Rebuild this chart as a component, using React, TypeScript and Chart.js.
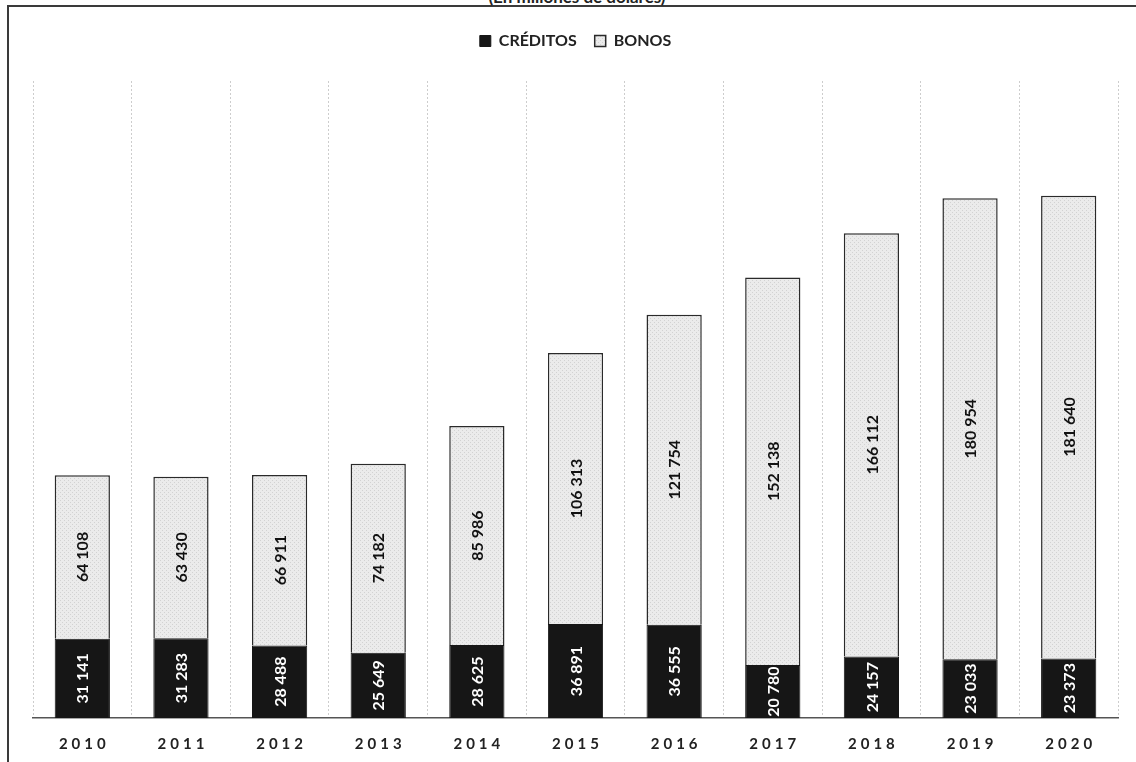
import React, { useEffect, useRef } from "react";
import { Chart, registerables } from "chart.js";

Chart.register(...registerables);

const categories = ["2010", "2011", "2012", "2013", "2014", "2015", "2016", "2017", "2018", "2019", "2020"];
const creditos = [31141, 31283, 28488, 25649, 28625, 36891, 36555, 20780, 24157, 23033, 23373];
const bonos = [64108, 63430, 66911, 74182, 85986, 106313, 121754, 152138, 166112, 180954, 181640];
const seriesNames = ["CRÉDITOS", "BONOS"];
const subtitle = "(En millones de dólares)";

const FONT = "Lato, 'Noto Sans', sans-serif";

function fmt(v: number): string {
  return String(v).replace(/\B(?=(\d{3})+(?!\d))/g, " ");
}

function makePattern(): CanvasPattern | string {
  const c = document.createElement("canvas");
  c.width = 4;
  c.height = 4;
  const g = c.getContext("2d");
  if (!g) return "#e6e6e6";
  g.fillStyle = "#ebebeb";
  g.fillRect(0, 0, 4, 4);
  g.fillStyle = "#d2d2d2";
  g.fillRect(0, 0, 1, 1);
  g.fillRect(2, 2, 1, 1);
  const p = g.createPattern(c, "repeat");
  return p || "#e6e6e6";
}

const labelPlugin = {
  id: "segLabels",
  afterDatasetsDraw(chart: any) {
    const ctx = chart.ctx;
    chart.data.datasets.forEach((ds: any, di: number) => {
      const meta = chart.getDatasetMeta(di);
      meta.data.forEach((el: any, i: number) => {
        const v = ds.data[i];
        const cy = (el.y + el.base) / 2;
        ctx.save();
        ctx.translate(el.x, cy);
        ctx.rotate(-Math.PI / 2);
        ctx.font = `bold 16px ${FONT}`;
        ctx.textAlign = "center";
        ctx.textBaseline = "middle";
        ctx.fillStyle = di === 0 ? "#ffffff" : "#111111";
        ctx.fillText(fmt(v), 0, 1);
        ctx.restore();
      });
    });
  },
};

const tweakPlugin = {
  id: "tweaks",
  afterInit(chart: any) {
    const lg = chart.legend;
    if (lg && !lg._patched) {
      const f = lg.fit;
      lg.fit = function () {
        f.call(this);
        this.height += 22;
      };
      lg._patched = true;
    }
  },
  beforeDraw(chart: any) {
    const xs = chart.scales.x;
    if (xs && !xs._lsPatched) {
      const orig = xs.drawLabels;
      xs.drawLabels = function (ca: any) {
        const c = this.ctx;
        c.save();
        (c as any).letterSpacing = "4px";
        c.translate(2, 0);
        orig.call(this, ca);
        c.restore();
      };
      xs._lsPatched = true;
    }
  },
};

export default function App() {
  const ref = useRef<HTMLCanvasElement | null>(null);

  useEffect(() => {
    if (!ref.current) return;
    const pattern = makePattern();
    const chart = new Chart(ref.current, {
      type: "bar",
      data: {
        labels: categories,
        datasets: [
          {
            label: seriesNames[0],
            data: creditos,
            backgroundColor: "#161616",
            borderColor: "#161616",
            borderWidth: 1,
            barPercentage: 0.56,
            categoryPercentage: 1,
          },
          {
            label: seriesNames[1],
            data: bonos,
            backgroundColor: pattern as any,
            borderColor: "#2a2a2a",
            borderWidth: 1.5,
            barPercentage: 0.56,
            categoryPercentage: 1,
          },
        ],
      },
      options: {
        responsive: false,
        animation: false,
        layout: { padding: { left: 33, right: 18, top: 15, bottom: 10 } },
        plugins: {
          legend: {
            position: "top",
            labels: {
              boxWidth: 11,
              boxHeight: 11,
              padding: 18,
              color: "#222",
              font: { family: FONT, size: 16, weight: "bold" },
            },
          },
          tooltip: { enabled: false },
          title: { display: false },
        },
        scales: {
          x: {
            stacked: true,
            grid: {
              display: true,
              offset: true,
              color: "#cdcdcd",
              lineWidth: 1,
              drawTicks: false,
            },
            border: { display: true, color: "#555", width: 1.5, dash: [2, 2] },
            ticks: {
              padding: 17,
              color: "#222",
              font: { family: FONT, size: 15, weight: "bold" },
            },
          },
          y: {
            stacked: true,
            display: false,
            min: 0,
            max: 250000,
          },
        },
      },
      plugins: [labelPlugin, tweakPlugin],
    });
    return () => chart.destroy();
  }, []);

  return (
    <div
      style={{
        position: "absolute",
        left: 0,
        top: 0,
        width: 1136,
        height: 762,
        overflow: "hidden",
        background: "#fff",
      }}
    >
      <div
        style={{
          position: "absolute",
          left: 7,
          top: 5,
          width: 1200,
          height: 800,
          borderTop: "2px solid #3a3a3a",
          borderLeft: "2px solid #3a3a3a",
        }}
      />
      <div
        style={{
          position: "absolute",
          left: 0,
          width: 1154,
          top: -13,
          textAlign: "center",
          fontFamily: FONT,
          fontWeight: "bold",
          fontSize: 17,
          lineHeight: "20px",
          color: "#222",
        }}
      >
        {subtitle}
      </div>
      <canvas
        ref={ref}
        width={1136}
        height={780}
        style={{ position: "absolute", left: 0, top: 0 }}
      />
    </div>
  );
}
